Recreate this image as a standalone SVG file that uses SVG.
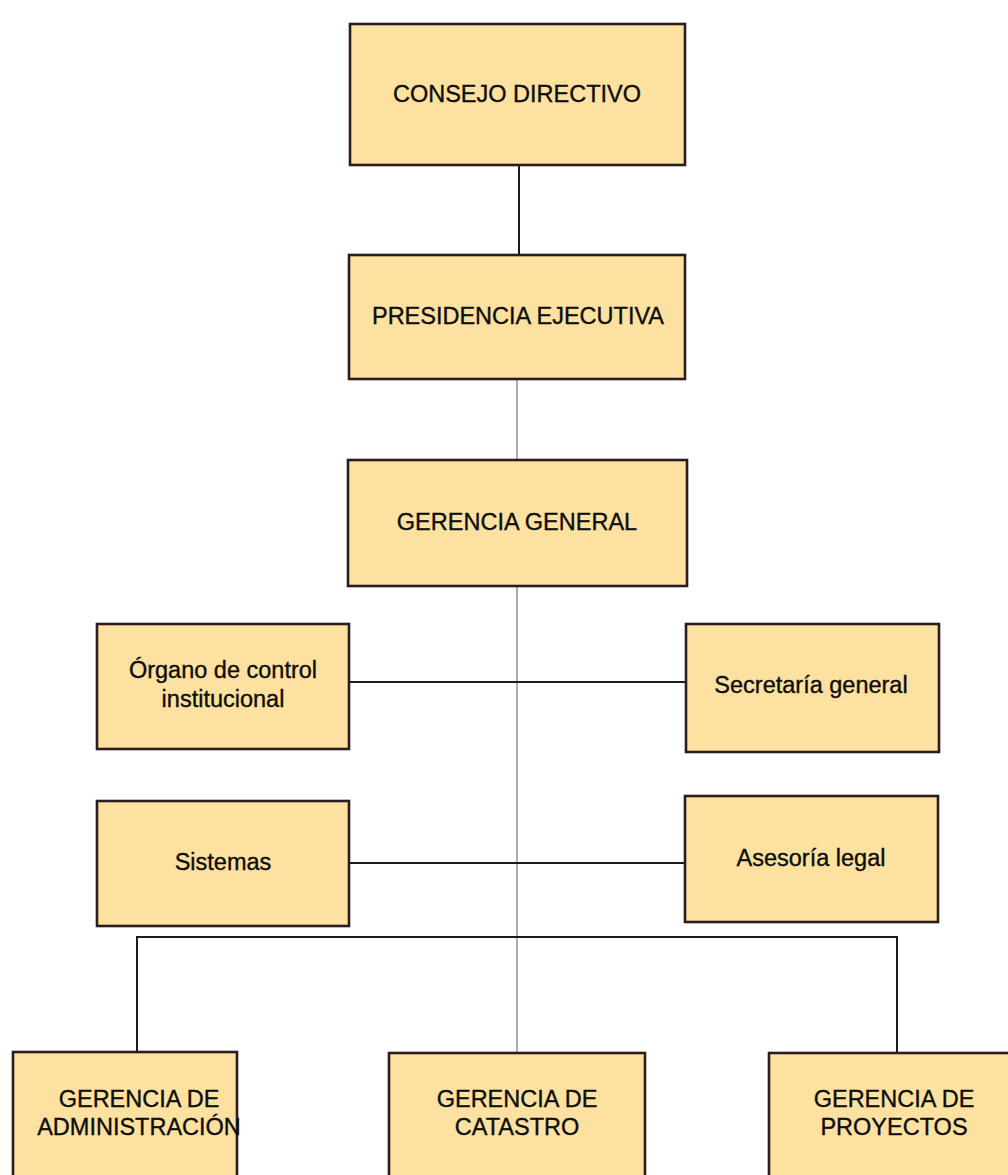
<svg xmlns="http://www.w3.org/2000/svg" width="1008" height="1175" viewBox="0 0 1008 1175">
  <style>
    .box { fill: #fce1a0; stroke: #2b1d1d; stroke-width: 2.6; }
    .lbl { font-family: "Liberation Sans", Arial, sans-serif; font-size: 23.5px; fill: #0d0d0d; stroke: #0d0d0d; stroke-width: 0.35; text-anchor: middle; }
    .link { fill: none; stroke: #1a1a1a; stroke-width: 2; }
    .trunk { fill: none; stroke: #8c8c8c; stroke-width: 1.4; }
  </style>
  <rect width="1008" height="1175" fill="#ffffff"/>

  <!-- connectors -->
  <g id="connectors">
    <line class="link" x1="519" y1="165" x2="519" y2="255"/>
    <line class="trunk" x1="517" y1="379" x2="517" y2="1053"/>
    <line class="link" x1="349" y1="682" x2="686" y2="682"/>
    <line class="link" x1="349" y1="863" x2="685" y2="863"/>
    <polyline class="link" points="137,1052 137,937 897,937 897,1053"/>
  </g>

  <g id="consejo-directivo">
    <rect class="box" x="350" y="24" width="335" height="141"/>
    <text class="lbl" x="517" y="102">CONSEJO DIRECTIVO</text>
  </g>

  <g id="presidencia-ejecutiva">
    <rect class="box" x="349" y="255" width="336" height="124"/>
    <text class="lbl" x="518" y="324">PRESIDENCIA EJECUTIVA</text>
  </g>

  <g id="gerencia-general">
    <rect class="box" x="348" y="460" width="339" height="126"/>
    <text class="lbl" x="517" y="530">GERENCIA GENERAL</text>
  </g>

  <g id="organo-control">
    <rect class="box" x="97" y="624" width="252" height="125"/>
    <text class="lbl" x="223" y="678">Órgano de control</text>
    <text class="lbl" x="223" y="707">institucional</text>
  </g>

  <g id="secretaria-general">
    <rect class="box" x="686" y="624" width="253" height="128"/>
    <text class="lbl" x="811" y="693">Secretaría general</text>
  </g>

  <g id="sistemas">
    <rect class="box" x="97" y="801" width="252" height="125"/>
    <text class="lbl" x="223" y="870">Sistemas</text>
  </g>

  <g id="asesoria-legal">
    <rect class="box" x="685" y="796" width="253" height="126"/>
    <text class="lbl" x="811" y="866">Asesoría legal</text>
  </g>

  <g id="gerencia-administracion">
    <rect class="box" x="13" y="1052" width="224" height="140"/>
    <text class="lbl" x="139" y="1107">GERENCIA DE</text>
    <text class="lbl" x="139" y="1135">ADMINISTRACIÓN</text>
  </g>

  <g id="gerencia-catastro">
    <rect class="box" x="389" y="1053" width="256" height="140"/>
    <text class="lbl" x="517" y="1107">GERENCIA DE</text>
    <text class="lbl" x="517" y="1135">CATASTRO</text>
  </g>

  <g id="gerencia-proyectos">
    <rect class="box" x="769" y="1053" width="250" height="140"/>
    <text class="lbl" x="894" y="1107">GERENCIA DE</text>
    <text class="lbl" x="894" y="1135">PROYECTOS</text>
  </g>
</svg>
